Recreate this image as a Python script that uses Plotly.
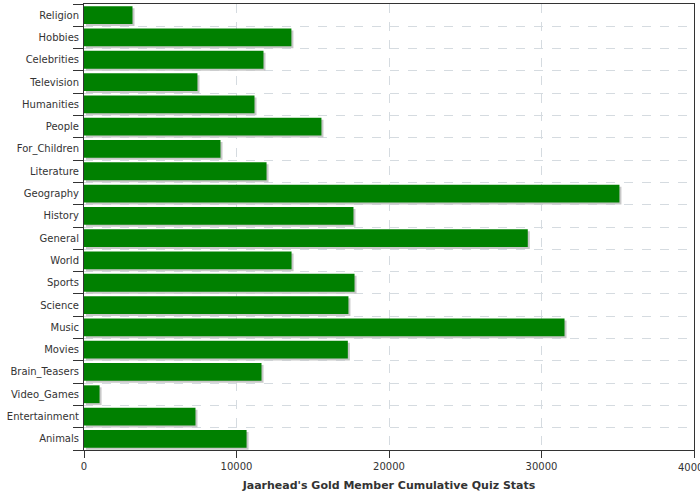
import plotly.graph_objects as go

categories = ["Animals", "Entertainment", "Video_Games", "Brain_Teasers", "Movies",
              "Music", "Science", "Sports", "World", "General", "History", "Geography",
              "Literature", "For_Children", "People", "Humanities", "Television",
              "Celebrities", "Hobbies", "Religion"]
values = [10660, 7310, 1020, 11640, 17300,
          31510, 17340, 17740, 13610, 29100, 17670, 35110,
          11970, 8950, 15570, 11180, 7440,
          11770, 13600, 3180]
x_ticks = [0, 10000, 20000, 30000, 40000]
title = "Jaarhead's Gold Member Cumulative Quiz Stats"

n = len(categories)
fig = go.Figure()
# shadow layer (main axes, hidden, shifted)
fig.add_trace(go.Bar(x=values, y=categories, orientation="h", width=0.8,
                     marker=dict(color="#c8c8c8", line=dict(width=0)),
                     hoverinfo="skip", showlegend=False))
# main bars (overlay axes, visible)
fig.add_trace(go.Bar(x=values, y=categories, orientation="h", width=0.8,
                     marker=dict(color="#008000", line=dict(width=0)),
                     xaxis="x2", yaxis="y2", showlegend=False))

px_per_unit = 610 / 40000.0
dx = 2 / px_per_unit
dy = 2 / (446 / n)

fig.update_layout(
    width=700, height=500,
    margin=dict(l=84, r=6, t=4, b=50),
    plot_bgcolor="white", paper_bgcolor="white",
    font=dict(family="DejaVu Sans", size=10, color="#333333"),
    bargap=0.2,
    xaxis=dict(range=[-dx, 40000 - dx], showgrid=False, zeroline=False,
               showticklabels=False, ticks="", showline=False),
    yaxis=dict(type="category", categoryorder="array", categoryarray=categories,
               range=[-0.5 + dy, n - 0.5 + dy], showgrid=False, zeroline=False,
               showticklabels=False, ticks="", showline=False),
    xaxis2=dict(range=[0, 40000], tickvals=x_ticks, ticktext=[str(v) for v in x_ticks],
                overlaying="x", anchor="y2", side="bottom",
                showgrid=True, gridcolor="#d5dbe0", griddash="dash", gridwidth=1,
                zeroline=False, showline=True, linecolor="#333333", linewidth=1, mirror=True,
                ticks="outside", ticklen=7, tickcolor="#333333",
                title=dict(text="<b>" + title + "</b>", font=dict(size=11, color="#333333"), standoff=10)),
    yaxis2=dict(type="category", categoryorder="array", categoryarray=categories,
                overlaying="y", anchor="x2", side="left",
                range=[-0.5, n - 0.5], tickson="boundaries",
                showgrid=True, gridcolor="#d5dbe0", griddash="dash", gridwidth=1,
                showline=True, linecolor="#333333", linewidth=1, mirror=True,
                ticks="outside", ticklen=10, tickcolor="#333333", ticklabelstandoff=2),
    annotations=[dict(text=str(x_ticks[-1]), x=x_ticks[-1], xref="x2", y=0, yref="paper",
                      yanchor="middle", yshift=-17, showarrow=False,
                      font=dict(size=10, color="#333333"))],
)

fig.write_html("out.html")
